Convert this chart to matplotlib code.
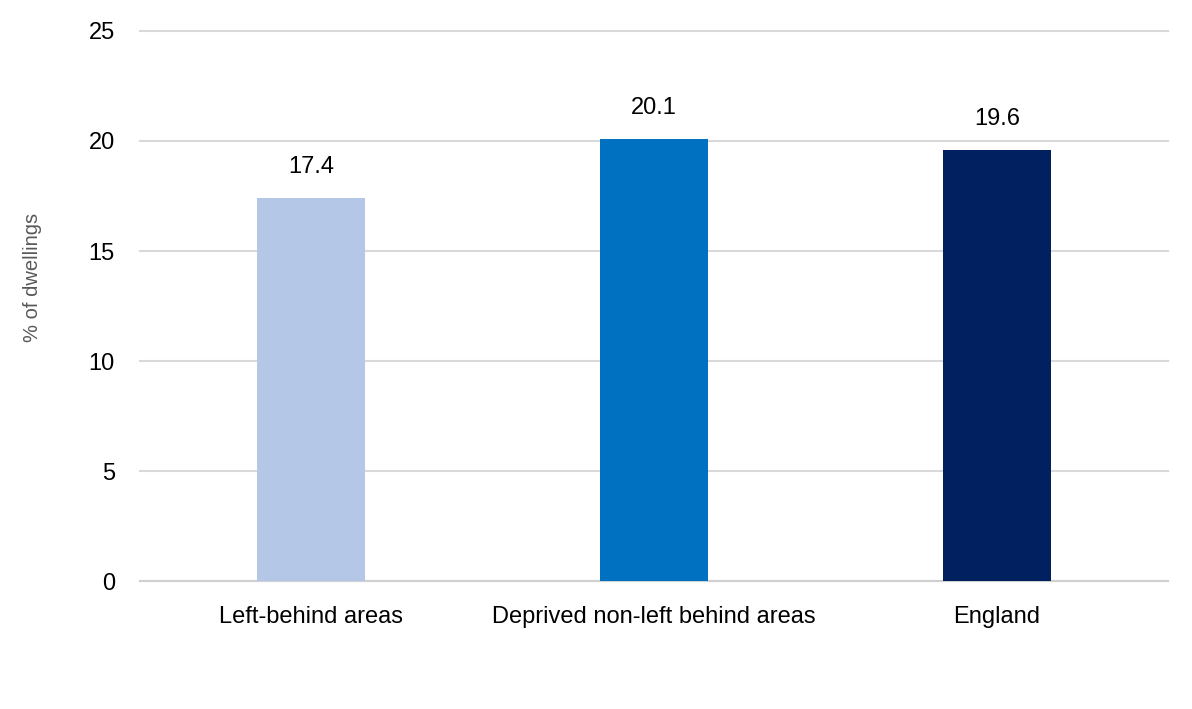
import matplotlib.pyplot as plt

plt.rcParams['font.family'] = ['Liberation Sans', 'DejaVu Sans']

categories = ['Left-behind areas', 'Deprived non-left behind areas', 'England']
values = [17.4, 20.1, 19.6]
bar_colors = ['#B4C7E7', '#0070C0', '#002060']
y_ticks = [0, 5, 10, 15, 20, 25]

fig = plt.figure(figsize=(11.92, 7.09), dpi=100)
ax = fig.add_axes([0.1174, 0.1805, 0.8626, 0.7758])

x = range(len(categories))
bars = ax.bar(x, values, width=0.315, color=bar_colors, zorder=3)

# value labels above each bar
for b, v in zip(bars, values):
    ax.annotate(f'{v:.1f}', (b.get_x() + b.get_width() / 2, v),
                xytext=(0, 22.5), textcoords='offset points',
                ha='center', va='center', fontsize=17, color='#000000')

ax.set_xlim(-0.5, 2.5)
ax.set_ylim(0, 25)
ax.set_yticks(y_ticks)
ax.set_xticks(list(x))
ax.set_xticklabels(categories)
ax.tick_params(axis='both', length=0, labelsize=17, colors='#000000')
ax.tick_params(axis='x', pad=18)
ax.tick_params(axis='y', pad=18)

ax.grid(axis='y', color='#D9D9D9', linewidth=1.5, zorder=0)
for gl in ax.get_ygridlines():
    gl.set_clip_on(False)
for s in ['top', 'right', 'left']:
    ax.spines[s].set_visible(False)
ax.spines['bottom'].set_color('#D0D0D0')
ax.spines['bottom'].set_linewidth(1.5)

fig.text(0.027, 0.608, '% of dwellings', rotation=90, ha='center', va='center',
         fontsize=14.5, color='#595959')

fig.savefig('out.png', dpi=100)
